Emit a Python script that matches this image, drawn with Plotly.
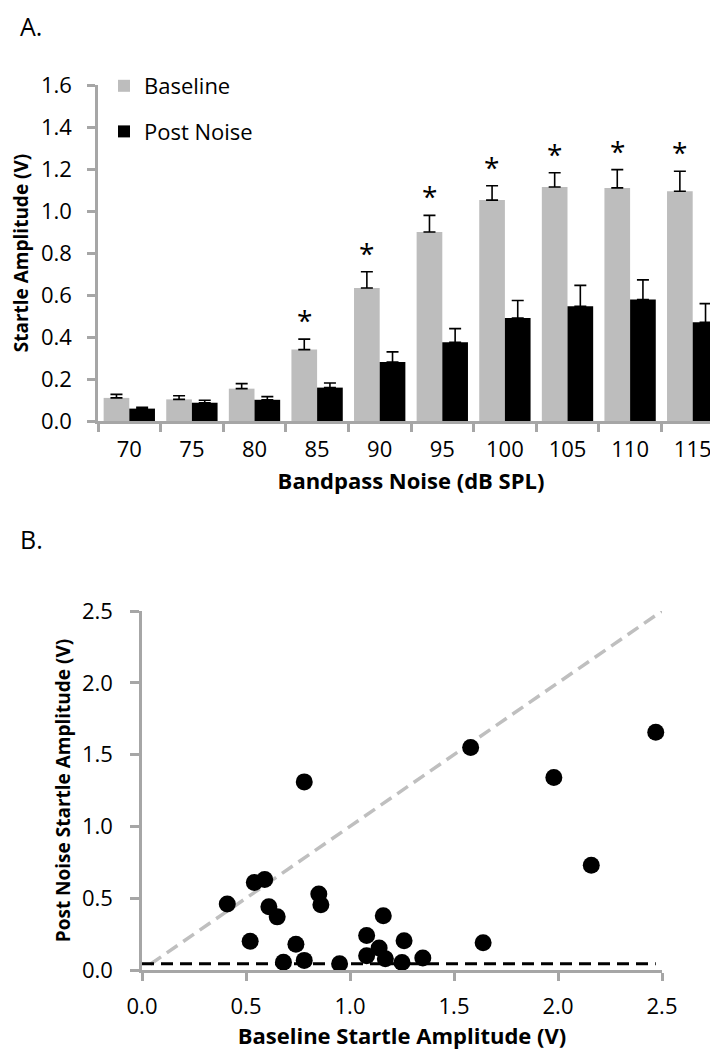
import plotly.graph_objects as go

# ---------------- Data: Panel A ----------------
noise_levels = ["70", "75", "80", "85", "90", "95", "100", "105", "110", "115"]
baseline_mean = [0.110, 0.103, 0.154, 0.340, 0.633, 0.900, 1.052, 1.114, 1.110, 1.094]
baseline_sem = [0.017, 0.017, 0.024, 0.050, 0.078, 0.079, 0.068, 0.068, 0.087, 0.095]
post_mean = [0.059, 0.087, 0.101, 0.159, 0.281, 0.375, 0.490, 0.546, 0.578, 0.470]
post_sem = [0.006, 0.012, 0.015, 0.022, 0.048, 0.065, 0.084, 0.100, 0.094, 0.089]
significant = [False, False, False, True, True, True, True, True, True, True]
ya_ticks = [0.0, 0.2, 0.4, 0.6, 0.8, 1.0, 1.2, 1.4, 1.6]

# ---------------- Data: Panel B ----------------
baseline_amp = [0.41, 0.54, 0.59, 0.52, 0.61, 0.65, 0.68, 0.74, 0.78, 0.85, 0.86, 0.95, 1.08,
                1.08, 1.14, 1.16, 1.17, 1.26, 1.25, 1.35, 1.64, 0.78, 1.58, 1.98, 2.47, 2.16]
post_amp = [0.46, 0.61, 0.63, 0.20, 0.44, 0.37, 0.054, 0.18, 0.067, 0.53, 0.455, 0.044, 0.24,
            0.10, 0.153, 0.378, 0.079, 0.204, 0.053, 0.084, 0.19, 1.31, 1.55, 1.34, 1.655, 0.73]
unity_x = [0.04, 2.5]
unity_y = [0.04, 2.5]
floor_x = [0.0, 2.47]
floor_y = [0.044, 0.044]
b_ticks = [0.0, 0.5, 1.0, 1.5, 2.0, 2.5]

W, H = 718, 1050
FONT = "Open Sans"
AXIS_GREY = "#a6a6a6"
BAR_GREY = "#bdbdbd"


def px_x(p):
    return p / W


def px_y(p):
    return 1 - p / H


fig = go.Figure()

fig.add_trace(go.Bar(
    x=noise_levels, y=baseline_mean, name="Baseline", marker_color=BAR_GREY,
    marker_line_width=0, legendgroup="a",
    error_y=dict(type="data", array=baseline_sem, arrayminus=[0] * len(baseline_sem),
                 symmetric=False, color="black", thickness=1.6, width=6),
    xaxis="x", yaxis="y",
))
fig.add_trace(go.Bar(
    x=noise_levels, y=post_mean, name="Post Noise", marker_color="black",
    marker_line_width=0, legendgroup="b",
    error_y=dict(type="data", array=post_sem, arrayminus=[0] * len(post_sem),
                 symmetric=False, color="black", thickness=1.6, width=6),
    xaxis="x", yaxis="y",
))

# Panel B
fig.add_trace(go.Scatter(
    x=unity_x, y=unity_y, mode="lines", showlegend=False,
    line=dict(color="#bfbfbf", width=3.5, dash="13px,7px"),
    xaxis="x2", yaxis="y2",
))
fig.add_trace(go.Scatter(
    x=floor_x, y=floor_y, mode="lines", showlegend=False,
    line=dict(color="black", width=3, dash="12px,7px"),
    xaxis="x2", yaxis="y2",
))
fig.add_trace(go.Scatter(
    x=baseline_amp, y=post_amp, mode="markers", showlegend=False,
    marker=dict(color="black", size=17, line=dict(width=0)),
    cliponaxis=False,
    xaxis="x2", yaxis="y2",
))

annotations = []
# significance stars (x given as category index)
for i, (m, s, sig) in enumerate(zip(baseline_mean, baseline_sem, significant)):
    if sig:
        annotations.append(dict(x=i, y=m + s, xref="x", yref="y", text="*", showarrow=False,
                                xshift=-13, yshift=19, yanchor="middle",
                                font=dict(family=FONT, size=28, color="black")))
annotations += [
    dict(text="A.", x=px_x(11), y=px_y(0), xref="paper", yref="paper", showarrow=False,
         xanchor="left", yanchor="top", borderpad=0,
         font=dict(family=FONT, size=25, color="black")),
    dict(text="B.", x=px_x(11), y=px_y(531), xref="paper", yref="paper", showarrow=False,
         xanchor="left", yanchor="middle", borderpad=0,
         font=dict(family=FONT, size=25, color="black")),
]

axis_common = dict(
    showline=True, linecolor=AXIS_GREY, linewidth=2.5, showgrid=False, zeroline=False,
    ticks="outside", tickcolor=AXIS_GREY, tickwidth=2.5, ticklen=8, automargin=False,
    tickfont=dict(family=FONT, size=22, color="black"),
)
title_font_x = dict(family=FONT, size=22, color="black", weight="bold")
title_font_y = dict(family=FONT, size=19, color="black", weight="bold")

fig.update_layout(
    width=W, height=H,
    margin=dict(l=0, r=0, t=0, b=0, autoexpand=False),
    paper_bgcolor="white", plot_bgcolor="white",
    barmode="group", bargap=0.18, bargroupgap=0.0,
    font=dict(family=FONT, color="black"),
    xaxis=dict(axis_common, domain=[px_x(90), px_x(716)], anchor="y",
               tickson="boundaries", type="category", range=[-0.5, 9.5],
               tickangle=0, ticklabelstandoff=7,
               title=dict(text="Bandpass Noise (dB SPL)", font=title_font_x, standoff=12)),
    yaxis=dict(axis_common, domain=[px_y(413), px_y(77)], anchor="x",
               range=[0, 1.6], tickvals=ya_ticks, tickformat=".1f",
               ticklabelstandoff=11,
               title=dict(text="Startle Amplitude (V)", font=title_font_y, standoff=8)),
    xaxis2=dict(axis_common, domain=[px_x(134), px_x(654)], anchor="y2",
                range=[0, 2.5], tickvals=b_ticks, tickformat=".1f",
                ticklabelstandoff=7,
                title=dict(text="Baseline Startle Amplitude (V)", font=title_font_x, standoff=8)),
    yaxis2=dict(axis_common, domain=[px_y(962), px_y(603)], anchor="x2",
                range=[0, 2.5], tickvals=b_ticks, tickformat=".1f",
                ticklabelstandoff=13, ticklen=9,
                title=dict(text="Post Noise Startle Amplitude (V)", font=title_font_y, standoff=7)),
    legend=dict(x=px_x(96), y=px_y(57), xanchor="left", yanchor="top",
                font=dict(family=FONT, size=22, color="black"),
                bgcolor="rgba(0,0,0,0)", tracegroupgap=14, traceorder="grouped"),
    annotations=annotations,
)

fig.write_html("out.html")
